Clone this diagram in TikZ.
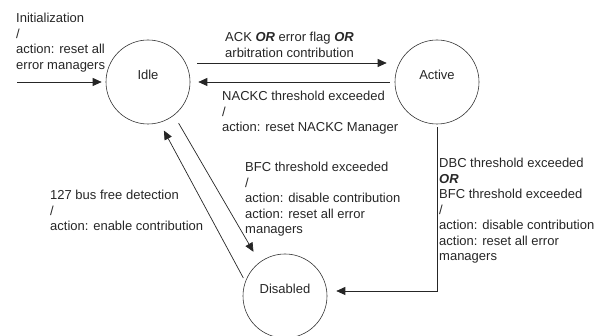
\documentclass[tikz,border=0pt]{standalone}
\usepackage{fontspec}
\setmainfont{Liberation Sans}
\usetikzlibrary{positioning, arrows.meta}

\begin{document}
\begin{tikzpicture}[ % 1pt = 1px of the reference
x=1pt, y=1pt,
font=\fontsize{13}{15.5}\selectfont,
state_circle/.style={circle, draw=black!80, line width=0.6pt, minimum size=84pt, inner sep=0pt, text=black!85, text height=9.5pt, text depth=14.5pt},
edge_text/.style={anchor=north west, align=left, inner sep=0pt, text=black!85},
out_arrow/.style={-{Triangle[length=9pt, width=8pt]}, line width=0.7pt, black!85}
]
\useasboundingbox (0,0) rectangle (606,-336);

% \node[type](name_of_node) at (x,-y) {node_text};

\node[state_circle](idle) at (148,-82) {Idle};
\node[state_circle](active) at (437,-82) {Active};
\node[state_circle](disabled) at (285,-296) {Disabled};

\coordinate (init_start) at (17,-82);

\node[edge_text](init_text) at (16,-13) {Initialization\\/\\action: reset all\\error managers};
\node[edge_text](ack_text) at (225,-32) {ACK \textbf{\textit{OR}} error flag \textbf{\textit{OR}}\\arbitration contribution};
\node[edge_text](nackc_text) at (222,-91) {NACKC threshold exceeded\\/\\action: reset NACKC Manager};
\node[edge_text](bus_text) at (50,-190) {127 bus free detection\\/\\action: enable contribution};
\node[edge_text](bfc_text) at (245,-162) {BFC threshold exceeded\\/\\action: disable contribution\\action: reset all error\\managers};
\node[edge_text](dbc_text) at (439,-158) {DBC threshold exceeded\\\textbf{\textit{OR}}\\BFC threshold exceeded\\/\\action: disable contribution\\action: reset all error\\managers};

% \draw[out_arrow](name_of_node.angle) -- (name_of_node.angle)

\draw[out_arrow, shorten >=4pt](init_start) -- (idle.west);
\draw[out_arrow, shorten <=7pt, shorten >=8pt]([yshift=19pt]idle.east) -- ([yshift=19pt]active.west);
\draw[out_arrow, shorten <=5pt, shorten >=8pt](active.west) -- (idle.east);
\draw[out_arrow, shorten <=3pt, shorten >=9pt](active.south) |- ([yshift=5pt]disabled.east);
\draw[out_arrow, shorten <=9pt, shorten >=12pt](idle.-52) -- (disabled.127);
\draw[out_arrow, shorten <=4pt, shorten >=9pt](disabled.160) -- (idle.-74);

\end{tikzpicture}
\end{document}
